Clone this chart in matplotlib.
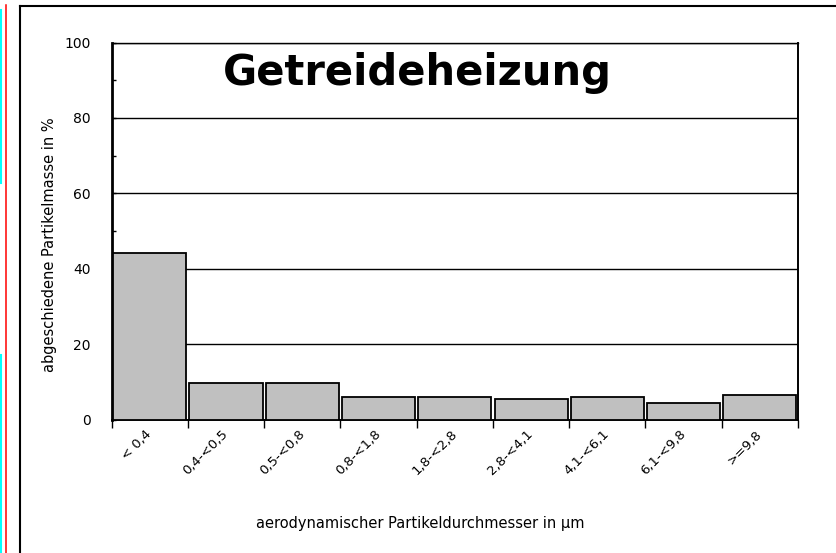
import matplotlib.pyplot as plt
import numpy as np
from matplotlib.lines import Line2D
from matplotlib.ticker import MultipleLocator

categories = ["< 0,4", "0,4-<0,5", "0,5-<0,8", "0,8-<1,8", "1,8-<2,8",
              "2,8-<4,1", "4,1-<6,1", "6,1-<9,8", ">=9,8"]
mass_pct = [44.2, 9.6, 9.6, 5.9, 5.9, 5.4, 6.0, 4.3, 6.5]

W, H = 836, 553
fig = plt.figure(figsize=(W / 100, H / 100), dpi=100)
fig.patch.set_facecolor('white')

# plot area in pixels: x 111.7..798, y 42.5..419.5
ax = fig.add_axes([111.7 / W, 1 - 419.5 / H, (798 - 111.7) / W, (419.5 - 42.5) / H])

x = np.arange(len(categories))
ax.bar(x, mass_pct, width=0.96, color='#c0c0c0', edgecolor='black',
       linewidth=1.3, zorder=3)

ax.set_xlim(-0.5, len(categories) - 0.5)
ax.set_ylim(0, 100)

# horizontal grid at every 20
ax.yaxis.set_major_locator(MultipleLocator(20))
ax.yaxis.set_minor_locator(MultipleLocator(10))
ax.grid(axis='y', which='major', color='black', linewidth=1.0, zorder=1)
ax.tick_params(axis='y', which='both', direction='in', length=3, width=1,
               labelsize=10, pad=15)

# ticks at category boundaries, labels at centers
ax.set_xticks(np.arange(len(categories) + 1) - 0.5)
ax.set_xticklabels([])
ax.tick_params(axis='x', which='major', direction='out', length=6, width=1)
ax.set_xticks(x, minor=True)
ax.set_xticklabels(categories, minor=True, rotation=45, ha='right',
                   va='center', rotation_mode='anchor', fontsize=9.5)
ax.tick_params(axis='x', which='minor', length=0, pad=9)

for side in ['left', 'bottom', 'right']:
    ax.spines[side].set_color('black')
    ax.spines[side].set_linewidth(1.4)
ax.spines['left'].set_linewidth(2)
ax.spines['top'].set_linewidth(1.0)

ax.set_ylabel('abgeschiedene Partikelmasse in %', fontsize=10.5, va='center')
ax.yaxis.set_label_coords(-0.09, 0.463)
ax.set_xlabel('aerodynamischer Partikeldurchmesser in µm', fontsize=10.5, va='center')
ax.xaxis.set_label_coords(0.449, -0.275)

ax.text(0.445, 0.887, 'Getreideheizung', transform=ax.transAxes,
        ha='center', va='baseline', fontsize=30, fontweight='bold',
        family='DejaVu Sans', zorder=5)

# frame and coloured margin lines of the original page
def px_line(x0, y0, x1, y1, color, lw):
    fig.add_artist(Line2D([x0 / W, x1 / W], [1 - y0 / H, 1 - y1 / H],
                          transform=fig.transFigure, color=color, linewidth=lw))

px_line(20, 6, 20, H, 'black', 1.5)
px_line(20, 6, W, 6, 'black', 1.5)
px_line(5.5, 5, 5.5, H, 'red', 1.1)
px_line(1, 10, 1, 183, 'cyan', 1.5)
px_line(1, 355, 1, H, 'cyan', 1.5)

fig.savefig('out.png', dpi=100)
